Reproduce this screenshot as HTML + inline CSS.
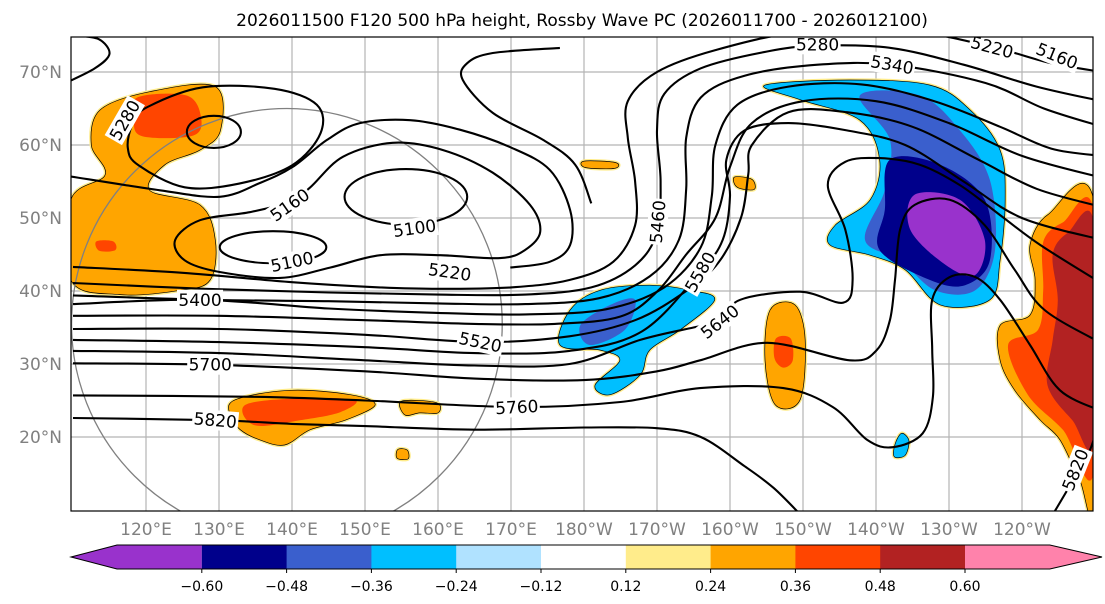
<!DOCTYPE html>
<html><head><meta charset="utf-8"><style>
html,body{margin:0;padding:0;background:#fff;}
svg{display:block;font-family:"DejaVu Sans","Liberation Sans",sans-serif;}
</style></head><body>
<svg id="chart" width="1105" height="604" viewBox="0 0 1105 604" xmlns="http://www.w3.org/2000/svg">
<text x="582" y="26" text-anchor="middle" font-size="17" fill="#000">2026011500 F120 500 hPa height, Rossby Wave PC (2026011700 - 2026012100)</text>
<defs><clipPath id="mapclip"><rect x="71" y="37" width="1022" height="474"/></clipPath></defs>
<g id="map" clip-path="url(#mapclip)"></g>
<rect x="71" y="37" width="1022" height="474" fill="none" stroke="#000" stroke-width="1.2"/>
<g id="axes"></g>
<g id="cbar"></g>
</svg>
<script>
const lonTicks=[120,130,140,150,160,170,180,190,200,210,220,230,240];
const lonLabels=["120°E","130°E","140°E","150°E","160°E","170°E","180°W","170°W","160°W","150°W","140°W","130°W","120°W"];
const latTicks=[20,30,40,50,60,70];
const latLabels=["20°N","30°N","40°N","50°N","60°N","70°N"];
const cbLevels=[-0.60,-0.48,-0.36,-0.24,-0.12,0.12,0.24,0.36,0.48,0.60];
const cbColors=["#9932cc","#00008b","#3a5fcd","#00bfff","#b0e2ff","#ffffff","#ffec8b","#ffa500","#ff4500","#b22222","#ff82ab"];

const shadeOrangeNW=[[113.7,64.8],[120.5,67.3],[129.5,68],[130.2,62],[127.4,59.3],[122.6,57.3],[120.5,53.8],[127.4,51.8],[129.5,47],[128.8,41.5],[124.7,40.1],[116.4,39.5],[109.7,41.5],[109.7,52.5],[114.4,55.9],[112.5,60]];
const shadeRedNW=[[118.8,66.5],[125.5,66.8],[127.5,64],[126.5,61.3],[119.5,61.2],[118.3,63.5]];
const shadeRedW=[[113.2,46.8],[115.5,46.8],[115.8,45.6],[113.6,45.5]];
const shadeSkyNE=[[204.8,68.2],[216.4,68.9],[227.4,68.2],[232.9,64.8],[237,59.3],[237.7,52.5],[237,44.2],[235.6,38.8],[228.8,38.1],[224,42.9],[219.2,44.9],[213.7,46.3],[214.4,49],[219.2,52.5],[220.5,58],[217.8,63.4],[209.6,66.2]];
const shadeBlueNE=[[217.8,66.8],[226,66.8],[231.5,62],[235.6,55.2],[236.3,45.6],[233.6,40.1],[228.1,40.1],[223.3,44.2],[218.5,47],[221.2,53.8],[221.9,60.7]];
const shadeNavyNE=[[221.9,58],[228.8,57.3],[234.9,52.5],[235.6,44.2],[232.2,40.8],[227.4,41.5],[220.5,45.6],[221.2,51.1]];
const shadePurpleNE=[[225.3,53.2],[231.5,52.5],[234.9,47],[233.6,42.2],[229.5,43.6],[224.7,48.4]];
const shadeSkyMid=[[178.1,37.4],[182.2,40.1],[189,40.8],[194.5,40.1],[197.9,38.8],[193.2,34.7],[189,31.9],[187.7,28.5],[183.6,25.8],[181.5,27.1],[184.9,30.5],[182.2,31.9],[176.7,32.6]];
const shadeBlueMid=[[179.5,35.3],[183.6,38.1],[187,38.8],[185.6,34.7],[180.8,32.6]];
const shadeSkySmall=[[223.5,20.5],[224.5,19.5],[224,17.5],[222.5,17.3],[222.6,19]];
const shadeOrangeHI=[[205.5,37.4],[208.9,38.1],[210.3,33.3],[209.6,25.1],[206.2,24.4],[204.8,30.5]];
const shadeRedHI=[[206.3,33.5],[208.3,33.5],[208.6,30.5],[207.3,29.5],[206.1,30.8]];
const shadeOrangeS=[[132.2,25.1],[139.7,26.4],[148,25.8],[151.4,24.4],[147.3,22.3],[142.5,21],[139,18.9],[135.6,19.6],[132.9,21],[131.5,23]];
const shadeRedS=[[133.6,24.4],[141.1,25.3],[148.6,25.1],[146.6,23.4],[141.1,22.3],[134.9,21.6]];
const shadeOrangeS2=[[155,24.9],[159.8,24.7],[160,23.3],[157.5,23.3],[155.5,23]];
const shadeOrangeS3=[[154.5,18.3],[155.8,18.2],[155.9,17],[154.4,17.1]];
const shadeOrangeB1=[[180,57.8],[184.3,57.6],[184.2,56.8],[180.2,56.9]];
const shadeOrangeB2=[[200.6,55.6],[203,55.3],[203.3,53.9],[201,54.2]];
const shadeOrangeE=[[249.9,52],[249.9,11],[247.9,14.1],[245.2,19.6],[242.5,22.3],[239,26.4],[237,30.5],[237,35.3],[241.1,36.7],[241.8,41.5],[241.1,46.3],[243.6,50.5]];
const shadeRedE=[[249.9,50.5],[249.9,15.5],[245.6,21],[240.8,25.8],[238.1,32.6],[242.2,34.7],[242.9,40.1],[242.9,46.7],[245.6,49.4]];
const shadeBrickE=[[249.9,49],[249.9,19.6],[246.9,22.3],[243.5,27.1],[244.2,33.3],[244.9,38.8],[244.2,45],[246.3,48]];

const c5220=[[110,43.3],[125,42.5],[140,41.2],[152,40.5],[160,40.3],[170,40.5],[178,41.5],[184,44],[187,49],[187,55],[186,61],[186,66],[190,70],[198,73],[210,75.5],[225,75.5],[236,73.4],[244,71.2],[251,70]];
const c5280=[[110,41.1],[128,40.3],[145,39.8],[160,39.5],[172,39.5],[181,40.5],[187,43.5],[190,48],[190.5,55],[190,62],[191,67],[196,70.5],[205,72.8],[212,73.6],[222,73.3],[232,71],[242,68],[251,66]];
const c5340=[[110,39.4],[128,38.8],[145,38.6],[160,38.3],[172,38.2],[182,39],[189,42],[193,47],[194,54],[194,61],[196,66.5],[202,69.5],[212,71],[222.2,71],[235,68.5],[243,65],[251,62.5]];
const c5400=[[110,38.2],[127.4,38.8],[145,37.6],[160,37],[172,36.8],[183,37.5],[191,40.5],[196,46],[197.5,53],[198,60],[201,65.5],[208,68],[218,68.3],[228,66],[237,62.5],[244,59.5],[251,58.5]];
const c5460=[[110,36.6],[130,36.6],[150,36],[165,35.5],[176,35.5],[185,36.5],[190.1,40],[194,45],[198,50],[200,57],[203,63],[210,66],[220,66],[230,63],[240,58.5],[251,55.5]];
const c5520=[[110,34.8],[130,34.8],[150,34],[165.8,33],[178,33.8],[187,36],[194,40],[198.5,44],[201.5,50],[202.5,56],[203,60],[208,64.5],[216,64.5],[225,62.5],[234,58],[242,54],[251,51.5]];
const c5580=[[110,33.3],[130,33],[150,32.3],[165,31.5],[178,31.8],[188,34.5],[195.9,42.6],[199,47],[200,53],[199.5,58],[202,62],[208,63],[216,62],[224,60],[232,55],[240,50],[251,47]];
const c5640=[[110,31.8],[130,31.5],[150,30.5],[165,29.8],[178,30],[187.7,33.3],[195,35],[198.6,35.8],[201.4,38.8],[209.6,39.9],[215.5,38.4],[216.8,41.5],[215.8,48.4],[213.4,54.5],[215.8,57.7],[220.5,58.2],[226,57.3],[231.5,54.5],[237,50.4],[242.5,46.3],[251,41]];
const c5700=[[110,30.1],[128.8,29.9],[150,29],[165,28],[180,27.8],[190,29],[195.9,30.5],[205.1,32.9],[216.4,30.5],[220.1,31.9],[221.9,36],[222.6,41.5],[223.3,48.4],[225.3,51.8],[230.1,52.5],[234.9,49],[239,42.9],[243.1,37.4],[251,32.8]];
const c5760=[[110,25.7],[135,25.5],[150,25],[170.8,24.1],[185,24.8],[195.9,26.7],[207.3,26.7],[214.1,24.1],[218.8,19.6],[222.3,18.6],[226.4,20.5],[227.8,25.5],[227.7,32],[227.7,38.8],[230.1,41.9],[233.6,41.9],[237,38.8],[241.1,32.6],[245.2,26.4],[251,23.5]];
const c5820=[[110,22.6],[129.5,22.3],[140,21.8],[150,21.5],[165,21],[180,21.3],[190,21.2],[196,20],[202,16],[206,13],[210,9]];
const c5820e=[[244,9],[247,14.1],[249.3,18.2],[250.5,22]];
const c5160=[[124,47],[127.4,49.7],[134.2,50.8],[139.7,52.2],[142.5,54.2],[147,58.4],[153.8,60.3],[160.7,59.3],[167.5,56.2],[172.6,51.8],[174,48.1],[171.9,45.6],[168.5,44.5],[160.3,44.9],[152.1,44.9],[145.2,43.2],[138.4,41.8],[130.1,42.6],[125.3,44.2]];
const c5280nw=[[120.2,65.2],[127.8,67.9],[137.6,67.7],[143.4,65.5],[143.9,61.6],[140,57.2],[132.7,54.7],[125.3,54.2],[119,57.2],[117.5,59.6],[118.2,63]];
const cArc1=[[109,55.8],[121.9,53.8],[130.1,52.9],[135.6,54.8],[140.1,57],[144.8,60.7],[149.3,63],[156.2,63.4],[163,62.1],[169.9,59.7],[175.3,56.6],[178.1,51.1],[178.1,46.3],[175.3,44],[169.9,43.2]];
const cArc2=[[176.7,73.3],[167.5,72.6],[164,71.2],[163.4,68.9],[167.5,64.4],[174.4,60.7],[178.8,57.3],[181,52]];
const cTopLeft=[[109,68.5],[113,70.5],[115,72.5],[113.5,74.5],[110,75]];
const low5100a=[155.6,52.9,8.4,3.8];
const low5100b=[137.4,46,7.3,2.2];
const loop5280=[129.3,61.8,3.7,2.2];
const ringCenter=[139.3,35.5]; const ringRadiusDeg=29.5;

const labelVals=["5280","5160","5100","5100","5220","5400","5520","5700","5820","5760","5460","5580","5640","5280","5340","5220","5160","5820"];
const labelLon=[117.1,139.7,156.8,140,161.6,127.4,165.8,128.8,129.5,170.8,190.1,195.9,198.6,212,222.2,235.9,244.8,247.3];
const labelLat=[63.4,51.8,48.6,44,42.6,38.8,33,29.9,22.3,24.1,49.5,42.6,35.8,73.8,71,73.4,72.2,15.5];
const labelRot=[-60,-35,-8,-12,8,0,12,0,5,-3,-85,-60,-38,0,10,15,22,-68];

const NS='http://www.w3.org/2000/svg';
function X(lon){return 146+(lon-120)*7.3;}
function Y(lat){return 72+(70-lat)*7.3;}
function mk(tag,attrs,parent){const e=document.createElementNS(NS,tag);for(const k in attrs)e.setAttribute(k,attrs[k]);parent.appendChild(e);return e;}
function smooth(pts,closed){
  const p=pts.map(d=>[X(d[0]),Y(d[1])]);const n=p.length;
  let s='M'+p[0][0].toFixed(1)+','+p[0][1].toFixed(1);
  const seg=closed?n:n-1;
  for(let i=0;i<seg;i++){
    const p0=p[closed?(i-1+n)%n:Math.max(i-1,0)],p1=p[i],p2=p[(i+1)%n],p3=p[closed?(i+2)%n:Math.min(i+2,n-1)];
    const c1=[p1[0]+(p2[0]-p0[0])/6,p1[1]+(p2[1]-p0[1])/6],c2=[p2[0]-(p3[0]-p1[0])/6,p2[1]-(p3[1]-p1[1])/6];
    s+='C'+c1[0].toFixed(1)+','+c1[1].toFixed(1)+' '+c2[0].toFixed(1)+','+c2[1].toFixed(1)+' '+p2[0].toFixed(1)+','+p2[1].toFixed(1);
  }
  return s+(closed?'Z':'');
}
const map=document.getElementById('map');
lonTicks.forEach(l=>{const e=mk('line',{x1:X(l),x2:X(l),y1:37,y2:511,stroke:'#b4b4b4','stroke-width':1.2},map);

});
latTicks.forEach(l=>{const e=mk('line',{x1:71,x2:1093,y1:Y(l),y2:Y(l),stroke:'#b4b4b4','stroke-width':1.2},map);

});
function shade(pts,ci,outline,name){
  if(outline){const r=mk('path',{d:smooth(pts,true),fill:'#ffec8b',stroke:'#ffec8b','stroke-width':3.5,'stroke-linejoin':'round'},map);
  
  }
  const e=mk('path',{d:smooth(pts,true),fill:cbColors[ci],stroke:outline?'#000':'none','stroke-width':0.7},map);
  
  
}
shade(shadeOrangeNW,7,true,'anomaly-orange-nw');
shade(shadeRedNW,8,false,'anomaly-red-nw');
shade(shadeRedW,8,false,'anomaly-red-w');
shade(shadeSkyNE,3,true,'anomaly-sky-ne');
shade(shadeBlueNE,2,false,'anomaly-blue-ne');
shade(shadeNavyNE,1,false,'anomaly-navy-ne');
shade(shadePurpleNE,0,false,'anomaly-purple-ne');
shade(shadeSkyMid,3,true,'anomaly-sky-mid');
shade(shadeBlueMid,2,false,'anomaly-blue-mid');
shade(shadeSkySmall,3,true,'anomaly-sky-small');
shade(shadeOrangeHI,7,true,'anomaly-orange-hawaii');
shade(shadeRedHI,8,false,'anomaly-red-hawaii');
shade(shadeOrangeS,7,true,'anomaly-orange-south');
shade(shadeRedS,8,false,'anomaly-red-south');
shade(shadeOrangeS2,7,true,'anomaly-orange-s2');
shade(shadeOrangeS3,7,true,'anomaly-orange-s3');
shade(shadeOrangeB1,7,true,'anomaly-orange-bering');
shade(shadeOrangeB2,7,true,'anomaly-orange-aleutian');
shade(shadeOrangeE,7,true,'anomaly-orange-east');
shade(shadeRedE,8,false,'anomaly-red-east');
shade(shadeBrickE,9,false,'anomaly-brick-east');
const ring=mk('circle',{cx:X(ringCenter[0]),cy:Y(ringCenter[1]),r:ringRadiusDeg*7.3,fill:'none',stroke:'#808080','stroke-width':1.3},map);


function contour(pts,closed,name){const e=mk('path',{d:smooth(pts,closed),fill:'none',stroke:'#000','stroke-width':2.1},map);

}
[[c5220,'contour-5220'],[c5280,'contour-5280'],[c5340,'contour-5340'],[c5400,'contour-5400'],[c5460,'contour-5460'],[c5520,'contour-5520'],[c5580,'contour-5580'],[c5640,'contour-5640'],[c5700,'contour-5700'],[c5760,'contour-5760'],[c5820,'contour-5820'],[c5820e,'contour-5820-east'],[cArc1,'contour-arc-west'],[cArc2,'contour-arc-north'],[cTopLeft,'contour-top-left']].forEach(c=>contour(c[0],false,c[1]));
contour(c5160,true,'contour-5160');
contour(c5280nw,true,'contour-5280-nw');
function ell(d,name){const e=mk('ellipse',{cx:X(d[0]),cy:Y(d[1]),rx:d[2]*7.3,ry:d[3]*7.3,fill:'none',stroke:'#000','stroke-width':2.1},map);

}
ell(low5100a,'low-5100-east');ell(low5100b,'low-5100-west');ell(loop5280,'loop-5280');
labelVals.forEach((v,i)=>{
  const x=X(labelLon[i]),y=Y(labelLat[i]);
  const g=mk('g',{transform:'translate('+x.toFixed(1)+','+y.toFixed(1)+') rotate('+labelRot[i]+')'},map);
  
  
  mk('rect',{x:-23,y:-10,width:46,height:20,fill:'#fff'},g);
  const t=mk('text',{x:0,y:6,'text-anchor':'middle','font-size':17,fill:'#000'},g);t.textContent=v;
});
const ax=document.getElementById('axes');
lonTicks.forEach((l,i)=>{const t=mk('text',{x:X(l),y:535,'text-anchor':'middle','font-size':17,fill:'#808080'},ax);t.textContent=lonLabels[i];

});
latTicks.forEach((l,i)=>{const t=mk('text',{x:62,y:Y(l)+6,'text-anchor':'end','font-size':17,fill:'#808080'},ax);t.textContent=latLabels[i];

});
const cb=document.getElementById('cbar');
const x0=117,step=84.8,yt=545,yb=569,ym=557;
function cbx(k){return x0+step*(k+1);}
cbColors.forEach((c,i)=>{
  let e;
  if(i===0) e=mk('polygon',{points:`71,${ym} ${x0},${yt} ${cbx(0)},${yt} ${cbx(0)},${yb} ${x0},${yb}`,fill:c},cb);
  else if(i===cbColors.length-1) e=mk('polygon',{points:`${cbx(i-1)},${yt} ${cbx(i-1)+step},${yt} 1102,${ym} ${cbx(i-1)+step},${yb} ${cbx(i-1)},${yb}`,fill:c},cb);
  else e=mk('rect',{x:cbx(i-1),y:yt,width:step+0.5,height:yb-yt,fill:c},cb);
  
  
});
const xe=cbx(cbColors.length-2)+step;
const ol=mk('polygon',{points:`71,${ym} ${x0},${yt} ${xe},${yt} 1102,${ym} ${xe},${yb} ${x0},${yb}`,fill:'none',stroke:'#000','stroke-width':1},cb);


cbLevels.forEach((v,k)=>{
  const x=cbx(k);
  mk('line',{x1:x,x2:x,y1:yb,y2:yb+4,stroke:'#000','stroke-width':1},cb);
  const t=mk('text',{x:x,y:591,'text-anchor':'middle','font-size':14,fill:'#000'},cb);
  t.textContent=(v<0?'\u2212':'')+Math.abs(v).toFixed(2);
  
  
});
</script>
</body></html>
